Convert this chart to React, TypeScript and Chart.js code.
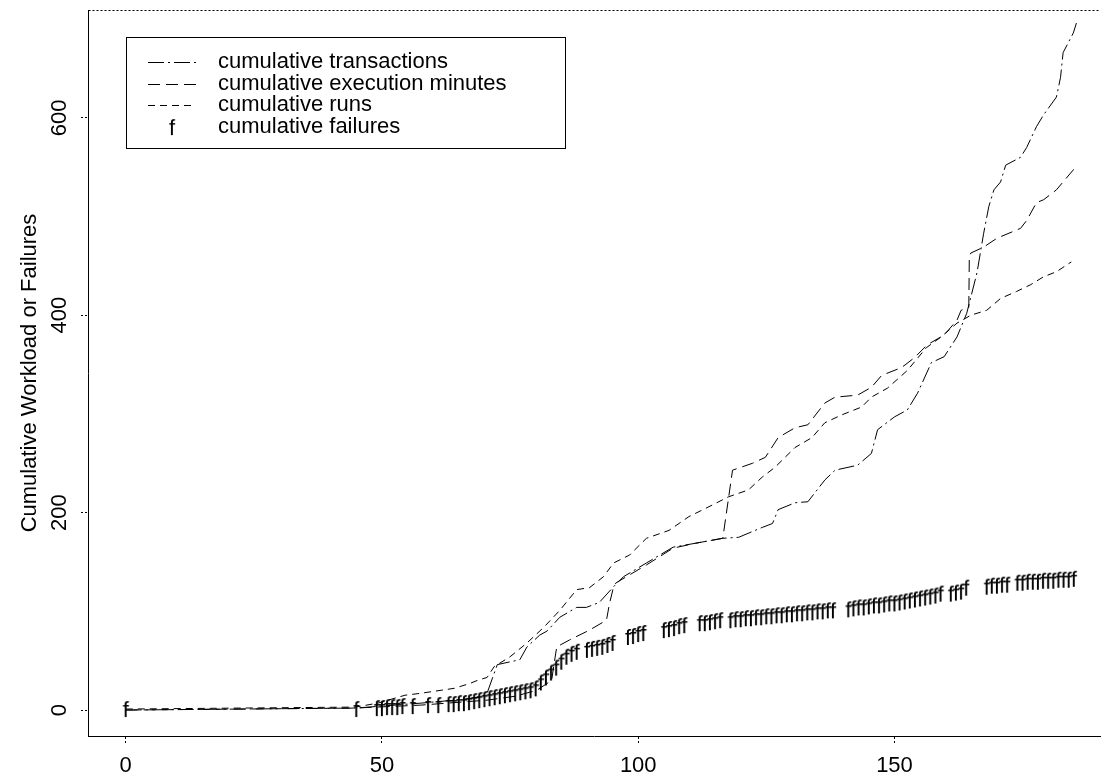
import React, { useEffect, useRef } from "react";
import { Chart, registerables } from "chart.js";

Chart.register(...registerables);

// ---- tick values ----
const xTickValues = [0, 50, 100, 150];
const yTickValues = [0, 200, 400, 600];

// ---- series ----
const transDays = [0, 44.8, 57.6, 64.1, 69.2, 70.5, 72.5, 76.9, 78.3, 80.8, 82.2, 84.7, 88.0, 89.9, 92.4, 95.2, 97.1, 101.6, 106.8, 111.2, 116.5, 119.6, 124.2, 126.2, 127.3, 130.6, 133.1, 136.4, 138.4, 142.8, 145.5, 146.7, 150.0, 152.5, 154.5, 157.2, 159.7, 162.2, 164.1, 166.1, 167.4, 168.4, 169.4, 170.7, 171.7, 174.6, 175.8, 177.7, 179.1, 181.6, 182.4, 182.9, 184.9, 185.5];
const transValues = [0, 2, 7, 10, 13, 17, 46, 51, 64, 76, 80, 94, 104, 104, 109, 125, 135, 149, 165, 169, 174, 175, 185, 189, 203, 210, 211, 233, 243, 248, 260, 284, 297, 304, 321, 352, 358, 378, 402, 443, 483, 510, 527, 535, 552, 560, 570, 591, 603, 621, 641, 666, 686, 696];

const execDays = [0, 44.8, 57.6, 70.5, 76, 80.2, 83.1, 83.5, 84.1, 86.6, 90.5, 93.8, 94.4, 95.2, 95.7, 101.6, 106.8, 111.2, 116.5, 118.4, 122.3, 124.8, 127.3, 130.6, 133.1, 136.4, 138.4, 142.8, 145.5, 147.5, 151.4, 153.9, 156.4, 159.7, 162.2, 163.0, 164.5, 164.6, 164.9, 167.4, 170.0, 174.6, 175.8, 177.7, 179.1, 181.6, 185.5];
const execValues = [0, 2, 5, 10, 14, 20, 30, 44, 64, 71, 81, 91, 108, 125, 129, 147, 164, 169, 174, 243, 250, 256, 276, 286, 289, 311, 317, 319, 327, 339, 347, 357, 370, 380, 395, 405, 408, 459, 463, 469, 478, 488, 496, 514, 517, 527, 551];

const runsDays = [0, 44.8, 49.2, 54.5, 57.6, 64.1, 67.2, 68.6, 70.5, 71.9, 75.0, 78.3, 81.6, 84.7, 88.0, 90.5, 93.2, 95.2, 98.3, 101.6, 106.0, 109.9, 113.8, 117.6, 121.5, 124.2, 126.7, 130.6, 133.9, 136.4, 139.7, 143.6, 145.5, 148.6, 152.5, 156.2, 159.1, 162.2, 164.9, 168.0, 170.7, 173.8, 176.6, 179.1, 181.6, 184.5];
const runsValues = [1, 3, 7, 15, 17, 22, 27, 30, 33, 44, 54, 68, 84, 101, 122, 124, 135, 149, 157, 174, 182, 196, 206, 216, 223, 236, 246, 266, 276, 291, 299, 307, 317, 326, 344, 367, 378, 392, 400, 405, 417, 424, 431, 439, 444, 454];

const failDays = [0, 45, 49, 50, 51, 52, 53, 54, 56, 59, 61, 63, 64, 65, 66, 67, 68, 69, 70, 71, 72, 73, 74, 75, 76, 77, 78, 79, 80, 81, 82, 83, 84, 85, 86, 87, 88, 90, 91, 92, 93, 94, 95, 98, 99, 100, 101, 105, 106, 107, 108, 109, 112, 113, 114, 115, 116, 118, 119, 120, 121, 122, 123, 124, 125, 126, 127, 128, 129, 130, 131, 132, 133, 134, 135, 136, 137, 138, 141, 142, 143, 144, 145, 146, 147, 148, 149, 150, 151, 152, 153, 154, 155, 156, 157, 158, 159, 161, 162, 163, 164, 168, 169, 170, 171, 172, 174, 175, 176, 177, 178, 179, 180, 181, 182, 183, 184, 185];
const failValues = [1, 1, 2, 2, 3, 3, 3, 4, 4, 5, 5, 6, 6, 7, 7, 8, 9, 10, 11, 12, 13, 14, 15, 16, 17, 18, 19, 20, 22, 28, 33, 38, 43, 49, 54, 57, 59, 61, 62, 63, 64, 66, 68, 74, 75, 77, 78, 81, 82, 83, 85, 86, 88, 88, 89, 90, 91, 91, 92, 92, 93, 93, 94, 94, 95, 95, 96, 96, 97, 97, 98, 98, 99, 99, 100, 100, 101, 101, 102, 103, 104, 104, 105, 106, 106, 107, 108, 108, 109, 110, 111, 112, 113, 114, 115, 116, 118, 118, 119, 120, 124, 125, 126, 126, 127, 127, 129, 129, 130, 130, 130, 131, 131, 131, 132, 132, 132, 133];

const seriesLabels = [
  "cumulative transactions",
  "cumulative execution minutes",
  "cumulative runs",
  "cumulative failures",
];
const yTitle = "Cumulative Workload or Failures";

const FONT = "'Liberation Sans', Arial, Helvetica, sans-serif";
const FS = 22;

const toPoints = (xs: number[], ys: number[]) => xs.map((x, i) => ({ x, y: ys[i] }));

function makeGlyph(ch: string, size: number): HTMLCanvasElement {
  const c = document.createElement("canvas");
  c.width = 14;
  c.height = 26;
  const g = c.getContext("2d")!;
  g.fillStyle = "#000";
  g.font = `${size}px ${FONT}`;
  g.textAlign = "center";
  g.textBaseline = "alphabetic";
  g.fillText(ch, 7, 13 + size * 0.36);
  return c;
}

const framePlugin = {
  id: "frame",
  afterDraw(chart: any) {
    const { ctx, chartArea } = chart;
    ctx.save();
    ctx.strokeStyle = "#000";
    ctx.lineWidth = 1;
    ctx.setLineDash([2, 2]);
    ctx.beginPath();
    ctx.moveTo(chartArea.left + 0.5, chartArea.top + 0.5);
    ctx.lineTo(chartArea.right, chartArea.top + 0.5);
    ctx.stroke();
    ctx.restore();
  },
};

const legendPlugin = {
  id: "boxLegend",
  afterDraw(chart: any) {
    const ctx = chart.ctx;
    ctx.save();
    ctx.fillStyle = "#fff";
    ctx.fillRect(127, 38, 438, 110);
    ctx.strokeStyle = "#000";
    ctx.lineWidth = 1;
    ctx.setLineDash([]);
    ctx.strokeRect(126.5, 37.5, 439, 111);
    ctx.font = `${FS}px ${FONT}`;
    ctx.textBaseline = "middle";
    ctx.textAlign = "left";
    chart.data.datasets.forEach((ds: any, i: number) => {
      const y = 62 + i * 21.7;
      if (ds.showLine === false) {
        const img = ds.pointStyle as HTMLCanvasElement;
        ctx.drawImage(img, 172 - img.width / 2, y - img.height / 2);
      } else {
        ctx.setLineDash(ds.borderDash || []);
        ctx.strokeStyle = ds.borderColor;
        ctx.lineWidth = ds.borderWidth;
        ctx.beginPath();
        ctx.moveTo(148, Math.round(y) + 0.5);
        ctx.lineTo(196, Math.round(y) + 0.5);
        ctx.stroke();
        ctx.setLineDash([]);
      }
      ctx.fillStyle = "#000";
      ctx.fillText(ds.label, 218, y);
    });
    ctx.restore();
  },
};

export default function App() {
  const ref = useRef<HTMLCanvasElement | null>(null);

  useEffect(() => {
    const canvas = ref.current!;
    const glyph = makeGlyph("f", FS);
    const lineCommon = {
      borderColor: "#000",
      borderWidth: 1,
      pointRadius: 0,
      tension: 0,
      fill: false,
    };
    const chart = new Chart(canvas, {
      type: "line",
      data: {
        datasets: [
          { ...lineCommon, label: seriesLabels[0], data: toPoints(transDays, transValues), borderDash: [16, 4, 2, 4] },
          { ...lineCommon, label: seriesLabels[1], data: toPoints(execDays, execValues), borderDash: [12, 6] },
          { ...lineCommon, label: seriesLabels[2], data: toPoints(runsDays, runsValues), borderDash: [7, 5] },
          {
            label: seriesLabels[3],
            data: toPoints(failDays, failValues),
            showLine: false,
            pointStyle: glyph as any,
            pointRadius: 6,
            borderColor: "#000",
            backgroundColor: "#000",
          },
        ],
      } as any,
      options: {
        responsive: false,
        animation: false,
        devicePixelRatio: 1,
        layout: { padding: { left: 0, top: 10, right: 0, bottom: 0 } },
        plugins: { legend: { display: false }, tooltip: { enabled: false } },
        scales: {
          x: {
            type: "linear",
            min: -7.36,
            max: 190.1,
            afterBuildTicks: (s: any) => {
              s.ticks = xTickValues.map((v) => ({ value: v }));
            },
            afterFit: (s: any) => {
              s.height = 45;
              s.paddingLeft = 0;
              s.paddingRight = 0;
              s.paddingTop = 0;
              s.paddingBottom = 0;
            },
            border: { display: true, color: "#000", width: 1, dash: [2, 2] },
            grid: { drawOnChartArea: false, drawTicks: true, tickLength: 7, tickColor: "#000", tickBorderDash: [2, 2] },
            ticks: { color: "#000", font: { family: FONT, size: FS }, padding: 10, maxRotation: 0, autoSkip: false },
          },
          y: {
            type: "linear",
            min: -26.3,
            max: 709.2,
            afterBuildTicks: (s: any) => {
              s.ticks = yTickValues.map((v) => ({ value: v }));
            },
            afterFit: (s: any) => {
              s.width = 88;
              s.paddingTop = 0;
              s.paddingBottom = 0;
              s.paddingLeft = 0;
              s.paddingRight = 0;
            },
            border: { display: true, color: "#000", width: 1, dash: [2, 2] },
            grid: { drawOnChartArea: false, drawTicks: true, tickLength: 7, tickColor: "#000", tickBorderDash: [2, 2] },
            ticks: {
              color: "#000",
              font: { family: FONT, size: FS },
              padding: 3,
              minRotation: 90,
              maxRotation: 90,
              crossAlign: "center",
            },
            title: {
              display: true,
              text: yTitle,
              color: "#000",
              font: { family: FONT, size: FS },
              padding: { top: 17, bottom: 0 },
            },
          },
        },
      } as any,
      plugins: [framePlugin, legendPlugin],
    });
    return () => chart.destroy();
  }, []);

  return (
    <div style={{ position: "fixed", left: 0, top: 0, width: 1107, height: 781, background: "#fff" }}>
      <canvas ref={ref} width={1107} height={781} style={{ display: "block" }} />
    </div>
  );
}
